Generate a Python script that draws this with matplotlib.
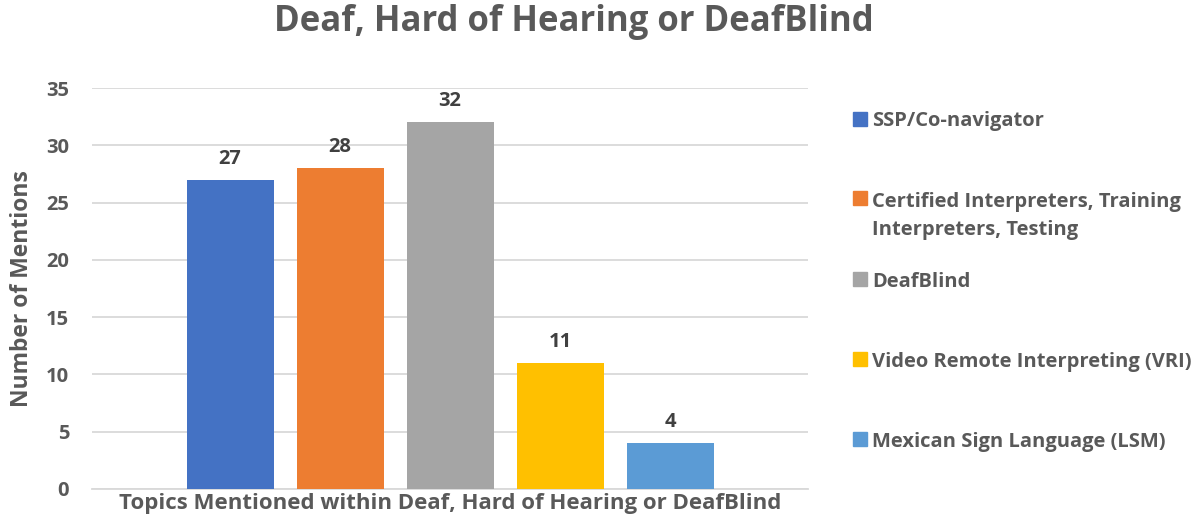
import matplotlib
matplotlib.use("Agg")
import matplotlib.pyplot as plt
from matplotlib.patches import Rectangle

title = "Deaf, Hard of Hearing or DeafBlind"
category = "Topics Mentioned within Deaf, Hard of Hearing or DeafBlind"
series = ["SSP/Co-navigator",
          "Certified Interpreters, Training\nInterpreters, Testing",
          "DeafBlind",
          "Video Remote Interpreting (VRI)",
          "Mexican Sign Language (LSM)"]
values = [27, 28, 32, 11, 4]
colors = ["#4472C4", "#ED7D31", "#A5A5A5", "#FFC000", "#5B9BD5"]
yticks = [0, 5, 10, 15, 20, 25, 30, 35]

TXT = "#595959"
plt.rcParams['font.family'] = ['Open Sans', 'DejaVu Sans']
plt.rcParams['font.weight'] = 'bold'

W, H = 1202, 524
fig = plt.figure(figsize=(W/100, H/100), dpi=100)
L, R, T, B = 92, 808, 88, 489
ax = fig.add_axes([L/W, 1-B/H, (R-L)/W, (B-T)/H])

aw = R - L
w = 87/aw
pitch = 110/aw
for i, (v, c) in enumerate(zip(values, colors)):
    x = (i - 2) * pitch
    ax.bar(x, v, width=w, color=c, zorder=3)
    ax.annotate(str(v), (x, v), xytext=(0, 8), textcoords="offset points",
                ha="center", va="bottom", fontsize=14.5, fontweight="bold", color="#404040")

ax.set_xlim(-0.5, 0.5)
ax.set_ylim(0, 35)
ax.set_yticks(yticks)
ax.set_yticklabels([str(t) for t in yticks], fontsize=14.5, fontweight="bold", color=TXT)
ax.set_xticks([0])
ax.set_xticklabels([category], fontsize=16, fontweight="bold", color=TXT)
ax.tick_params(axis="both", length=0)
ax.tick_params(axis="y", pad=16.5)
ax.tick_params(axis="x", pad=3)
ax.grid(axis="y", color="#D9D9D9", linewidth=1.3, zorder=0)
for s in ["top", "right", "left"]:
    ax.spines[s].set_visible(False)
ax.spines["bottom"].set_color("#D9D9D9")
ax.spines["bottom"].set_linewidth(1.3)
ax.set_ylabel("Number of Mentions", fontsize=16.5, fontweight="bold", color=TXT)
ax.yaxis.set_label_coords((34-L)/aw, 0.5)

fig.text(574/W, 1-22/H, title, ha="center", va="center", fontsize=25,
         fontweight="bold", color=TXT)

# legend drawn manually to match spacing
leg_base = [126.5, 205, 286.7, 366.7, 446.7]
line_pitch = 30
for lab, c, yb in zip(series, colors, leg_base):
    fig.patches.append(Rectangle((853/W, 1-(yb-0.5)/H), 14/W, 14/H,
                                 transform=fig.transFigure, color=c, figure=fig))
    nlines = lab.count("\n")
    fig.text(872/W, 1-(yb + nlines*line_pitch)/H, lab, ha="left", va="baseline",
             fontsize=14.5, fontweight="bold", color=TXT, linespacing=1.5)

fig.savefig("out.png", dpi=100)
